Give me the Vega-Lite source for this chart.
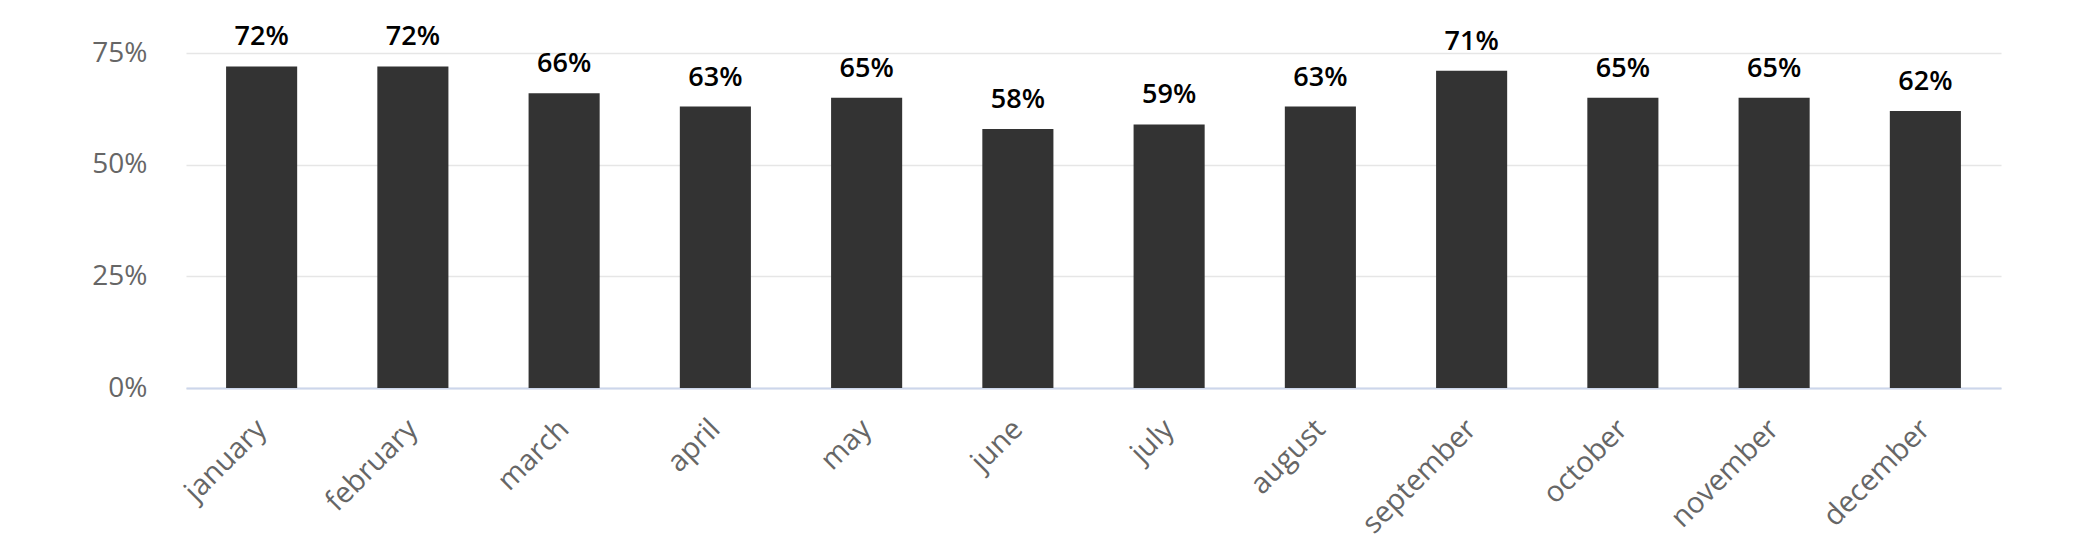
{
  "$schema": "https://vega.github.io/schema/vega-lite/v6.json",
  "autosize": "none",
  "width": 1815,
  "height": 335,
  "padding": {"left": 186, "top": 53, "right": 75, "bottom": 166},
  "background": "white",
  "config": {
    "view": {"stroke": null},
    "font": "Open Sans"
  },
  "data": {
    "values": [
      {"month": "january", "value": 0.72},
      {"month": "february", "value": 0.72},
      {"month": "march", "value": 0.66},
      {"month": "april", "value": 0.63},
      {"month": "may", "value": 0.65},
      {"month": "june", "value": 0.58},
      {"month": "july", "value": 0.59},
      {"month": "august", "value": 0.63},
      {"month": "september", "value": 0.71},
      {"month": "october", "value": 0.65},
      {"month": "november", "value": 0.65},
      {"month": "december", "value": 0.62}
    ]
  },
  "encoding": {
    "x": {
      "field": "month",
      "type": "nominal",
      "sort": null,
      "scale": {"paddingInner": 0.53, "paddingOuter": 0.265},
      "axis": {
        "title": null,
        "labelAngle": -45,
        "labelAlign": "right",
        "labelBaseline": "middle",
        "labelPadding": 36,
        "labelFontSize": 29,
        "labelColor": "#666666",
        "labelFont": "Open Sans",
        "ticks": false,
        "domainColor": "#ccd6eb",
        "domainWidth": 2,
        "grid": false
      }
    },
    "y": {
      "field": "value",
      "type": "quantitative",
      "scale": {"domain": [0, 0.75], "nice": false},
      "axis": {
        "title": null,
        "values": [0, 0.25, 0.5, 0.75],
        "format": ".0%",
        "labelFontSize": 28,
        "labelColor": "#666666",
        "labelFont": "Open Sans",
        "labelPadding": 39,
        "ticks": false,
        "domain": false,
        "gridColor": "#e6e6e6",
        "gridWidth": 1.5
      }
    }
  },
  "layer": [
    {
      "mark": {"type": "bar", "color": "#333333"}
    },
    {
      "mark": {
        "type": "text",
        "baseline": "alphabetic",
        "dy": -21,
        "fontSize": 27,
        "fontWeight": 600,
        "color": "#000000",
        "font": "Open Sans",
        "clip": false
      },
      "encoding": {
        "text": {"field": "value", "type": "quantitative", "format": ".0%"}
      }
    }
  ]
}
